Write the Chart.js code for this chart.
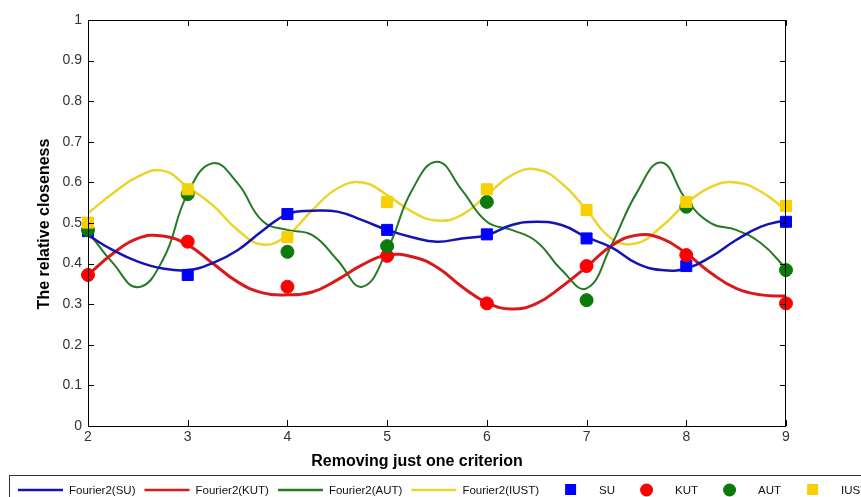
<!DOCTYPE html>
<html>
<head>
<meta charset="utf-8">
<script src="https://cdn.jsdelivr.net/npm/chart.js@4/dist/chart.umd.min.js"></script>
<style>
  html, body { margin: 0; padding: 0; background: #fff; }
  #chart { display: block; }
</style>
</head>
<body>
<canvas id="chart" width="861" height="497"></canvas>
<script>
const fitX = [2, 2.25, 2.5, 2.75, 3, 3.25, 3.5, 3.75, 4, 4.25, 4.5, 4.75, 5, 5.25, 5.5,
  5.75, 6, 6.25, 6.5, 6.75, 7, 7.25, 7.5, 7.75, 8, 8.25, 8.5, 8.75, 9];

// Fourier2 fit curves
const fitSU = [0.470, 0.433, 0.405, 0.388, 0.384, 0.401, 0.433, 0.481, 0.522, 0.530, 0.528, 0.507, 0.483, 0.465, 0.454,
  0.462, 0.470, 0.495, 0.503, 0.495, 0.465, 0.440, 0.401, 0.384, 0.388, 0.417, 0.458, 0.491, 0.507];
const fitKUT = [0.372, 0.425, 0.462, 0.468, 0.446, 0.401, 0.355, 0.328, 0.323, 0.330, 0.360, 0.397, 0.421, 0.417, 0.391,
  0.343, 0.304, 0.288, 0.302, 0.343, 0.392, 0.444, 0.470, 0.462, 0.425, 0.376, 0.339, 0.323, 0.320];
const fitAUT = [0.479, 0.401, 0.342, 0.409, 0.573, 0.647, 0.598, 0.505, 0.483, 0.470, 0.409, 0.343, 0.433, 0.581, 0.651,
  0.581, 0.503, 0.483, 0.454, 0.384, 0.339, 0.446, 0.573, 0.649, 0.557, 0.499, 0.483, 0.450, 0.388];
const fitIUST = [0.524, 0.573, 0.614, 0.629, 0.589, 0.544, 0.483, 0.447, 0.470, 0.532, 0.585, 0.600, 0.569, 0.528, 0.506,
  0.520, 0.569, 0.618, 0.632, 0.598, 0.532, 0.462, 0.450, 0.491, 0.548, 0.589, 0.600, 0.577, 0.532];

// measured points
const criteria = [2, 3, 4, 5, 6, 7, 8, 9];
const su = [0.480, 0.372, 0.522, 0.483, 0.472, 0.462, 0.394, 0.503];
const kut = [0.372, 0.454, 0.343, 0.419, 0.302, 0.394, 0.421, 0.302];
const aut = [0.483, 0.571, 0.429, 0.443, 0.552, 0.310, 0.540, 0.384];
const iust = [0.501, 0.583, 0.465, 0.552, 0.583, 0.532, 0.552, 0.542];

const yTicks = [0, 0.1, 0.2, 0.3, 0.4, 0.5, 0.6, 0.7, 0.8, 0.9, 1];
const xTitle = "Removing just one criterion";
const yTitle = "The relative closeness";

const pts = (xs, ys) => xs.map((x, i) => ({ x: x, y: ys[i] }));

function fitLine(label, ys, color, width) {
  return {
    label: label,
    data: pts(fitX, ys),
    showLine: true,
    borderColor: color,
    backgroundColor: color,
    borderWidth: width,
    pointRadius: 0,
    tension: 0.45,
    order: 5,
  };
}

function markers(label, ys, color, style, radius, order) {
  return {
    label: label,
    data: pts(criteria, ys),
    showLine: false,
    pointStyle: style,
    pointRadius: radius,
    pointBackgroundColor: color,
    pointBorderColor: color,
    pointBorderWidth: 1,
    borderColor: color,
    backgroundColor: color,
    clip: false,
    order: order,
  };
}

// frame, inward ticks, axis titles and the boxed legend (MATLAB look)
const matlabLook = {
  id: "matlabLook",
  afterDraw(chart) {
    const ctx = chart.ctx;
    const a = chart.chartArea;
    const xs = chart.scales.x;
    const ys = chart.scales.y;
    ctx.save();
    ctx.strokeStyle = "#000";
    ctx.lineWidth = 1;
    ctx.strokeRect(a.left + 0.5, a.top + 0.5, a.right - a.left - 1, a.bottom - a.top);
    ctx.beginPath();
    xs.ticks.forEach((t) => {
      const px = Math.round(xs.getPixelForValue(t.value)) + 0.5;
      ctx.moveTo(px, a.bottom); ctx.lineTo(px, a.bottom - 6);
      ctx.moveTo(px, a.top); ctx.lineTo(px, a.top + 6);
    });
    ys.ticks.forEach((t) => {
      const py = Math.round(ys.getPixelForValue(t.value)) + 0.5;
      ctx.moveTo(a.left, py); ctx.lineTo(a.left + 6, py);
      ctx.moveTo(a.right, py); ctx.lineTo(a.right - 6, py);
    });
    ctx.stroke();

    // axis titles
    ctx.fillStyle = "#000";
    ctx.font = "bold 16px 'Liberation Sans', Arial, sans-serif";
    ctx.textAlign = "center";
    ctx.textBaseline = "middle";
    ctx.fillText(xTitle, 417, 462);
    ctx.save();
    ctx.translate(45, 224);
    ctx.rotate(-Math.PI / 2);
    ctx.fillText(yTitle, 0, 0);
    ctx.restore();

    // legend
    ctx.strokeStyle = "#333";
    ctx.strokeRect(9.5, 475.5, 870, 40);
    ctx.font = "11.5px 'Liberation Sans', Arial, sans-serif";
    ctx.textAlign = "left";
    let x = 18;
    const cy = 490;
    chart.data.datasets.forEach((ds) => {
      if (ds.showLine) {
        ctx.strokeStyle = ds.borderColor;
        ctx.lineWidth = 2.5;
        ctx.beginPath();
        ctx.moveTo(x, cy); ctx.lineTo(x + 45, cy);
        ctx.stroke();
      } else {
        ctx.fillStyle = ds.pointBackgroundColor;
        if (ds.pointStyle === "rect") {
          ctx.fillRect(x + 17, cy - 6, 11, 11);
        } else {
          ctx.beginPath();
          ctx.arc(x + 22.5, cy, 6.5, 0, Math.PI * 2);
          ctx.fill();
        }
      }
      ctx.fillStyle = "#111";
      ctx.fillText(ds.label, x + 51, cy + 1);
      x += 51 + ctx.measureText(ds.label).width + 9;
    });
    ctx.restore();
  },
};

new Chart(document.getElementById("chart").getContext("2d"), {
  type: "scatter",
  data: {
    datasets: [
      fitLine("Fourier2(SU)", fitSU, "#1414b4", 2.5),
      fitLine("Fourier2(KUT)", fitKUT, "#d81a1a", 3),
      fitLine("Fourier2(AUT)", fitAUT, "#267a26", 2),
      fitLine("Fourier2(IUST)", fitIUST, "#ecd42c", 2.5),
      markers("SU", su, "#0000ff", "rect", 7.8, 4),
      markers("KUT", kut, "#ff0000", "circle", 6.5, 3),
      markers("AUT", aut, "#0a7a0a", "circle", 6.5, 2),
      markers("IUST", iust, "#f7d000", "rect", 7.8, 1),
    ],
  },
  options: {
    responsive: false,
    animation: false,
    layout: { padding: { top: 20, right: 75, left: 0, bottom: 0 } },
    plugins: {
      legend: { display: false },
      tooltip: { enabled: false },
    },
    scales: {
      x: {
        type: "linear",
        min: 2,
        max: 9,
        afterFit: (scale) => { scale.height = 71; },
        afterBuildTicks: (scale) => { scale.ticks = criteria.map((v) => ({ value: v })); },
        grid: { display: false, drawTicks: false },
        border: { display: false },
        ticks: {
          padding: 3,
          color: "#333",
          font: { size: 14, family: "'Liberation Sans', Arial, sans-serif" },
          callback: (v) => String(v),
        },
      },
      y: {
        type: "linear",
        min: 0,
        max: 1,
        afterFit: (scale) => { scale.width = 88; },
        afterBuildTicks: (scale) => { scale.ticks = yTicks.map((v) => ({ value: v })); },
        grid: { display: false, drawTicks: false },
        border: { display: false },
        ticks: {
          padding: 6,
          color: "#333",
          font: { size: 14, family: "'Liberation Sans', Arial, sans-serif" },
          callback: (v) => String(v),
        },
      },
    },
  },
  plugins: [matlabLook],
});
</script>
</body>
</html>
